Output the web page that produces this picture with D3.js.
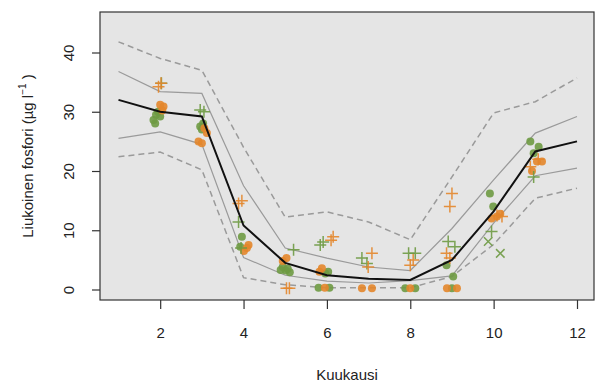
<!DOCTYPE html>
<html>
<head>
<meta charset="utf-8">
<script src="https://cdn.jsdelivr.net/npm/d3@7"></script>
<style>
  body { margin: 0; background: #fff; }
  text { font-family: "Liberation Sans", Arial, sans-serif; fill: #222; }
</style>
</head>
<body>
<svg id="chart" width="598" height="387"></svg>
<script>
// monthly summary lines (Kuukausi 1..12)
const months = [1, 2, 3, 4, 5, 6, 7, 8, 9, 10, 11, 12];
const median = [32, 30, 29.2, 10.8, 4.5, 2.4, 1.8, 1.6, 5, 13.2, 23.3, 25];
const upperInner = [36.8, 33.4, 33.1, 17.5, 7, 5.3, 3.8, 3.2, 10.3, 18.5, 26.4, 29.2];
const lowerInner = [25.5, 26.6, 24.5, 5.4, 2.4, 1.4, 1.1, 1.5, 2.3, 11.2, 19.2, 20.5];
const upperOuter = [41.8, 39, 37, 24, 12.2, 13.1, 11.4, 8.4, 19, 29.8, 31.7, 35.7];
const lowerOuter = [22.4, 23.2, 20.2, 2, 0.8, 0.3, 0.3, 0.3, 2.2, 7.6, 15.4, 17.1];

// observations [month (jittered), value]
const orangeCircles = [
  [2.08, 30.9], [2.05, 30.2], [2.0, 31.2],
  [3.12, 26.4], [2.92, 25], [3.0, 24.7], [3.06, 27.2],
  [4.12, 7.5], [4.08, 7], [4.01, 6.5],
  [5.03, 5.3], [4.94, 4.8],
  [5.88, 3.6], [5.82, 3.0], [5.95, 0.3],
  [6.84, 0.2], [7.08, 0.2],
  [8.0, 0.2],
  [8.88, 0.2], [9.12, 0.2],
  [10.08, 12.3], [9.95, 12], [10.16, 12.8],
  [11.04, 21.6], [11.16, 21.6], [10.92, 20]
];
const greenCircles = [
  [1.84, 28.6], [1.88, 28], [2.0, 29.2], [1.9, 29.5], [1.95, 30],
  [2.96, 27.5], [3.03, 28], [3.0, 27],
  [3.96, 8.9], [3.92, 7.2],
  [4.94, 3.8], [5.01, 3.2], [5.11, 2.9], [5.06, 3.5], [4.89, 3.3],
  [6.03, 3.0], [5.96, 2.7], [5.8, 0.3], [6.06, 0.3],
  [7.88, 0.2], [8.12, 0.2],
  [8.87, 4.1], [9.03, 2.2], [9.0, 0.2],
  [9.91, 16.2], [9.99, 14],
  [10.88, 25], [11.08, 24.1], [10.96, 23]
];
const orangeCrosses = [
  [1.96, 34.2], [2.02, 34.8],
  [3.88, 14.5], [3.96, 15],
  [5.1, 0.2], [5.03, 0.2],
  [6.15, 8.9], [6.1, 8.3],
  [7.08, 6.1], [6.99, 3.8],
  [8.0, 4.1], [8.07, 5],
  [9.0, 16.2], [8.95, 14], [8.87, 6.1], [8.95, 5.3],
  [10.08, 12.5], [10.2, 12.3],
  [10.88, 20.7], [11.07, 22]
];
const greenCrosses = [
  [2.03, 34.8],
  [2.96, 30.3], [3.05, 30],
  [3.88, 11.4], [3.94, 7],
  [5.2, 6.7],
  [5.84, 7.5], [5.91, 8],
  [6.84, 5.3], [6.96, 4.4],
  [7.96, 6.1], [8.12, 6.1],
  [8.91, 8.1], [9.07, 7.2],
  [9.95, 9.8],
  [10.96, 19]
];
const greenX = [[9.87, 8.1], [10.16, 6.1]];

const xTicks = [2, 4, 6, 8, 10, 12];
const yTicks = [0, 10, 20, 30, 40];

const orange = "#e3862b";
const green = "#6e9a42";

const box = { left: 100, top: 12, right: 594, bottom: 300 };
let svg = d3.select("#chart");

const x = d3.scaleLinear().domain([1, 12]).range([118.5, 577]);
const y = d3.scaleLinear().domain([0, 40]).range([289.5, 52.5]);

// plot area
svg.append("rect")
  .attr("x", box.left)
  .attr("y", box.top)
  .attr("width", box.right - box.left)
  .attr("height", box.bottom - box.top)
  .attr("fill", "#e5e5e5");

function drawLine(values, color, width, dash) {
  const line = d3.line()
    .x((d, i) => x(months[i]))
    .y((d) => y(d));
  svg.append("path")
    .datum(values)
    .attr("d", line)
    .attr("fill", "none")
    .attr("stroke", color)
    .attr("stroke-width", width)
    .attr("stroke-dasharray", dash);
}

drawLine(upperOuter, "#9a9a9a", 1.5, "6,4");
drawLine(lowerOuter, "#9a9a9a", 1.5, "6,4");
drawLine(upperInner, "#9a9a9a", 1.2, null);
drawLine(lowerInner, "#9a9a9a", 1.2, null);

// points
function drawCircles(data, color) {
  svg.append("g")
    .selectAll("circle")
    .data(data)
    .enter()
    .append("circle")
    .attr("cx", (d) => x(d[0]))
    .attr("cy", (d) => y(d[1]))
    .attr("r", 4)
    .attr("fill", color)
    .attr("fill-opacity", 0.9);
}

function drawCrosses(data, color, symbol) {
  svg.append("g")
    .selectAll("path")
    .data(data)
    .enter()
    .append("path")
    .attr("transform", (d) => "translate(" + x(d[0]) + "," + y(d[1]) + ")" + (symbol === "x" ? " rotate(45)" : ""))
    .attr("d", "M-6,0H6M0,-6V6")
    .attr("fill", "none")
    .attr("stroke", color)
    .attr("stroke-width", 1.5)
    .attr("stroke-opacity", 0.9);
}

drawCircles(greenCircles, green);
drawCircles(orangeCircles, orange);
drawCrosses(greenCrosses, green, "+");
drawCrosses(orangeCrosses, orange, "+");
drawCrosses(greenX, green, "x");

drawLine(median, "#111", 2, null);

// frame
svg.append("rect")
  .attr("x", box.left)
  .attr("y", box.top)
  .attr("width", box.right - box.left)
  .attr("height", box.bottom - box.top)
  .attr("fill", "none")
  .attr("stroke", "#333")
  .attr("stroke-width", 1.2);

// axes
const gx = svg.append("g")
  .attr("transform", "translate(0," + box.bottom + ")")
  .call(d3.axisBottom(x).tickValues(xTicks).tickSize(9).tickPadding(18));
gx.select(".domain").remove();
gx.selectAll("line").attr("stroke", "#333").attr("stroke-width", 1.2);
gx.selectAll("text")
  .style("font-size", "15px")
  .style("font-family", "Liberation Sans, Arial, sans-serif")
  .attr("fill", "#222");

const gy = svg.append("g")
  .attr("transform", "translate(" + box.left + ",0)")
  .call(d3.axisLeft(y).tickValues(yTicks).tickSize(8).tickFormat(d3.format("d")));
gy.select(".domain").remove();
gy.selectAll("line").attr("stroke", "#333").attr("stroke-width", 1.2);
gy.selectAll("text")
  .attr("x", null)
  .attr("dy", null)
  .attr("transform", "translate(-26,0) rotate(-90)")
  .attr("text-anchor", "middle")
  .style("font-size", "15px")
  .style("font-family", "Liberation Sans, Arial, sans-serif")
  .attr("fill", "#222");

// titles
svg.append("text")
  .attr("x", (box.left + box.right) / 2)
  .attr("y", 380)
  .attr("text-anchor", "middle")
  .style("font-size", "15px")
  .text("Kuukausi");

const yLabel = svg.append("text")
  .attr("transform", "translate(33," + (box.top + box.bottom) / 2 + ") rotate(-90)")
  .attr("text-anchor", "middle")
  .style("font-size", "15px");
yLabel.append("tspan").text("Liukoinen fosfori (µg l");
yLabel.append("tspan").attr("dy", -7).style("font-size", "10px").text("−1");
yLabel.append("tspan").attr("dy", 7).text(" )");
</script>
</body>
</html>
